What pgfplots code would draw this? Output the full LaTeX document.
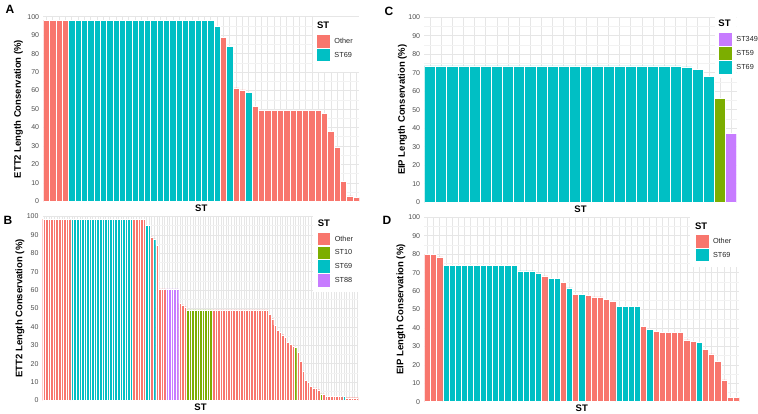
\documentclass[border=0pt]{standalone}
\usepackage{pgfplots}
\pgfplotsset{compat=1.18}
\usepackage{fontspec}
\setmainfont{Liberation Sans}
\definecolor{cOther}{HTML}{F8766D}
\definecolor{cST10}{HTML}{7CAE00}
\definecolor{cST69}{HTML}{00BFC4}
\definecolor{cST88}{HTML}{C77CFF}
\definecolor{tickgray}{HTML}{4D4D4D}
\definecolor{gridmaj}{HTML}{E6E6E6}
\definecolor{gridmin}{HTML}{F2F2F2}
\newcommand{\labfont}{\fontsize{9.5}{10}\selectfont\bfseries}
\pgfplotsset{
  panel/.style={
    anchor=south west, scale only axis,
    ymin=0, ymax=100, ytick={0,10,...,100}, minor ytick={5,15,...,95},
    xticklabels={}, grid=both,
    major grid style={draw=gridmaj, line width=0.6pt},
    minor grid style={draw=gridmin, line width=0.4pt},
    axis line style={draw=none}, major tick length=0pt, minor tick length=0pt,
    /pgf/number format/assume math mode=true,
    yticklabel style={font=\fontsize{7}{8}\selectfont, text=tickgray, inner sep=0pt, xshift=-4pt},
    xlabel={ST},
    xlabel style={font=\labfont, anchor=center},
    ylabel style={font=\labfont, anchor=center},
    legend style={draw=none, fill=none, inner sep=0pt, anchor=north west,
      font=\fontsize{7.3}{8}\selectfont, text=black!85, row sep=1.3pt, column sep=4.5pt,
      nodes={inner sep=0pt}, cells={anchor=west}},
  },
  bars/.style={ybar, bar width=1, bar shift=0pt, draw=white, line width=0.5pt,
    legend image code/.code={\fill[##1,draw=none] (0pt,-6.25pt) rectangle (12.5pt,6.25pt);}},
}
\begin{document}
\begin{tikzpicture}
\path[use as bounding box] (0,0) rectangle (758pt,414pt);
% ---------------- Panel A ----------------
\begin{axis}[panel, at={(43.3pt,212.7pt)}, width=316pt, height=184.6pt,
  xmin=-0.5, xmax=49.5, xtick={0,...,49},
  ylabel={ETT2 Length Conservation (\%)},
  xlabel style={at={(axis description cs:0.5,-0.038)}},
  ylabel style={at={(axis description cs:-0.079,0.5)}},
  legend style={at={(axis description cs:0.867,0.901)}}]
\addplot[bars, fill=cOther] coordinates {(0,98.2)(1,98.2)(2,98.2)(3,98.2)(28,88.6)(30,61.5)(31,60.3)(33,51.4)(34,49.3)(35,49.3)(36,49.3)(37,49.3)(38,49.3)(39,49.3)(40,49.3)(41,49.3)(42,49.3)(43,49.3)(44,47.8)(45,37.7)(46,29.1)(47,10.6)(48,2.9)(49,2.0)};
\addplot[bars, fill=cST69] coordinates {(4,98.2)(5,98.2)(6,98.2)(7,98.2)(8,98.2)(9,98.2)(10,98.2)(11,98.2)(12,98.2)(13,98.2)(14,98.2)(15,98.2)(16,98.2)(17,98.2)(18,98.2)(19,98.2)(20,98.2)(21,98.2)(22,98.2)(23,98.2)(24,98.2)(25,98.2)(26,98.2)(27,94.6)(29,84.1)(32,59.0)};
\legend{Other,ST69}
\fill[white] (rel axis cs:0.853,0.70) rectangle (rel axis cs:1,1);
\node[anchor=west, font=\labfont, inner sep=0pt] at (rel axis cs:0.866,0.955) {ST};
\end{axis}
% ---------------- Panel B ----------------
\begin{axis}[panel, at={(42.7pt,13.5pt)}, width=315.6pt, height=184pt,
  xmin=-0.5, xmax=122.5, xtick={0,...,122},
  ylabel={ETT2 Length Conservation (\%)},
  xlabel style={at={(axis description cs:0.5,-0.035)}},
  ylabel style={at={(axis description cs:-0.072,0.5)}},
  legend style={at={(axis description cs:0.871,0.912)}}]
\addplot[bars, line width=0.18pt, fill=cOther] coordinates {(0,98.6)(1,98.6)(2,98.6)(3,98.6)(4,98.6)(5,98.6)(6,98.6)(7,98.6)(8,98.6)(9,98.6)(10,98.6)(35,98.6)(36,98.6)(37,98.6)(38,98.6)(39,98.6)(42,88.9)(44,84.5)(45,60.6)(46,60.6)(47,60.6)(53,52.8)(54,51.9)(55,51.0)(66,49.2)(67,49.2)(68,49.2)(69,49.2)(70,49.2)(71,49.2)(72,49.2)(73,49.2)(74,49.2)(75,49.2)(76,49.2)(77,49.2)(78,49.2)(79,49.2)(80,49.2)(81,49.2)(82,49.2)(83,49.2)(84,49.2)(85,49.2)(86,49.2)(87,49.2)(88,47.0)(89,44.5)(90,41.0)(91,38.3)(92,37.0)(93,35.8)(94,34.3)(95,31.5)(96,30.6)(97,29.8)(99,26.2)(100,21.2)(101,16.1)(102,11.0)(103,10.0)(104,7.8)(105,6.8)(106,6.8)(107,5.9)(109,3.6)(110,2.2)(111,2.2)(112,2.2)(113,2.2)(114,2.2)(115,2.2)(116,2.2)(118,1.5)(119,1.5)(120,1.5)(121,1.5)(122,1.5)};
\addplot[bars, line width=0.18pt, fill=cST10] coordinates {(56,49.2)(57,49.2)(58,49.2)(59,49.2)(60,49.2)(61,49.2)(62,49.2)(63,49.2)(64,49.2)(65,49.2)(98,28.9)(108,3.6)};
\addplot[bars, line width=0.18pt, fill=cST69] coordinates {(11,98.6)(12,98.6)(13,98.6)(14,98.6)(15,98.6)(16,98.6)(17,98.6)(18,98.6)(19,98.6)(20,98.6)(21,98.6)(22,98.6)(23,98.6)(24,98.6)(25,98.6)(26,98.6)(27,98.6)(28,98.6)(29,98.6)(30,98.6)(31,98.6)(32,98.6)(33,98.6)(34,98.6)(40,95.2)(41,95.2)(43,87.9)(117,2.4)};
\addplot[bars, line width=0.18pt, fill=cST88] coordinates {(48,60.6)(49,60.6)(50,60.6)(51,60.6)(52,60.6)};
\legend{Other,ST10,ST69,ST88}
\fill[white] (rel axis cs:0.856,0.59) rectangle (rel axis cs:1,1);
\node[anchor=west, font=\labfont, inner sep=0pt] at (rel axis cs:0.871,0.963) {ST};
\end{axis}
% ---------------- Panel C ----------------
\begin{axis}[panel, at={(424.3pt,211.7pt)}, width=312.4pt, height=185pt,
  xmin=-0.5, xmax=27.5, xtick={0,...,27},
  ylabel={EIP Length Conservation (\%)},
  xlabel style={at={(axis description cs:0.5,-0.036)}},
  ylabel style={at={(axis description cs:-0.070,0.5)}},
  legend style={at={(axis description cs:0.944,0.914)}}]
\addplot[bars, fill=cST88] coordinates {(27,37.1)};
\addplot[bars, fill=cST10] coordinates {(26,56.2)};
\addplot[bars, fill=cST69] coordinates {(0,73.7)(1,73.7)(2,73.7)(3,73.7)(4,73.7)(5,73.7)(6,73.7)(7,73.7)(8,73.7)(9,73.7)(10,73.7)(11,73.7)(12,73.7)(13,73.7)(14,73.7)(15,73.7)(16,73.7)(17,73.7)(18,73.7)(19,73.7)(20,73.7)(21,73.7)(22,73.7)(23,73.2)(24,71.9)(25,67.9)};
\legend{ST349,ST59,ST69}
\fill[white] (rel axis cs:0.93,0.671) rectangle (rel axis cs:1.07,1);
\node[anchor=west, font=\labfont, inner sep=0pt] at (rel axis cs:0.941,0.968) {ST};
\end{axis}
% ---------------- Panel D ----------------
\begin{axis}[panel, at={(424.3pt,12.3pt)}, width=315pt, height=184.4pt,
  xmin=-0.5, xmax=50.5, xtick={0,...,50},
  ylabel={EIP Length Conservation (\%)},
  xlabel style={at={(axis description cs:0.5,-0.035)}},
  ylabel style={at={(axis description cs:-0.074,0.5)}},
  legend style={at={(axis description cs:0.862,0.904)}}]
\addplot[bars, fill=cOther] coordinates {(0,79.9)(1,79.9)(2,78.5)(19,68.2)(22,64.6)(24,58.2)(26,57.7)(27,56.8)(28,56.8)(29,55.5)(30,54.4)(35,41.0)(37,38.2)(38,37.4)(39,37.4)(40,37.4)(41,37.4)(42,33.5)(43,32.7)(45,28.4)(46,25.9)(47,21.9)(48,11.9)(49,2.5)(50,2.2)};
\addplot[bars, fill=cST69] coordinates {(3,74.0)(4,74.0)(5,74.0)(6,74.0)(7,74.0)(8,74.0)(9,74.0)(10,74.0)(11,74.0)(12,74.0)(13,74.0)(14,74.0)(15,70.9)(16,70.9)(17,70.9)(18,69.8)(20,66.7)(21,66.7)(23,61.7)(25,58.2)(31,51.5)(32,51.5)(33,51.5)(34,51.5)(36,39.2)(44,32.0)};
\legend{Other,ST69}
\fill[white] (rel axis cs:0.843,0.731) rectangle (rel axis cs:1.0076,1);
\node[anchor=west, font=\labfont, inner sep=0pt] at (rel axis cs:0.859,0.953) {ST};
\end{axis}
% panel letters
\node[font=\fontsize{12}{12}\selectfont\bfseries] at (10pt,405pt) {A};
\node[font=\fontsize{12}{12}\selectfont\bfseries] at (8pt,193.7pt) {B};
\node[font=\fontsize{12}{12}\selectfont\bfseries] at (389pt,403pt) {C};
\node[font=\fontsize{12}{12}\selectfont\bfseries] at (387pt,194pt) {D};
\end{tikzpicture}
\end{document}
